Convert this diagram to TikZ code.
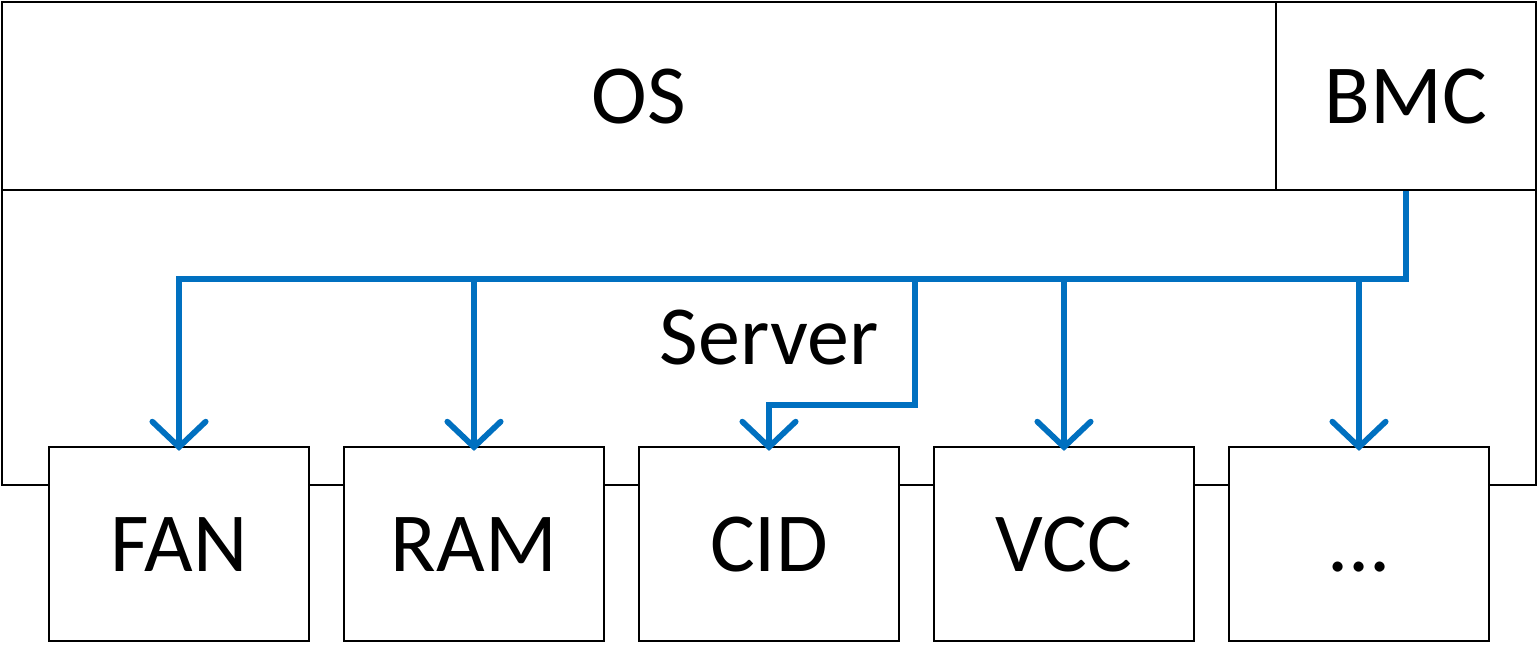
\documentclass[tikz,border=0pt]{standalone}
\usepackage{fontspec}
\setmainfont{Carlito}
\usetikzlibrary{arrows.meta,positioning}
\definecolor{linkblue}{RGB}{0,112,192}
\begin{document}
\begin{tikzpicture}[x=0.75pt,y=-0.75pt,
        box/.style={draw=black, line width=1.1pt, fill=white, inner sep=0pt,
            text height=41pt, text depth=0pt, font=\fontsize{63}{70}\selectfont},
        part/.style={box, minimum width=195pt, minimum height=145.5pt},
        link/.style={draw=linkblue, line width=4.3pt, line join=miter, shorten >=-3.5pt,
            -{Straight Barb[length=19pt, width=40pt, line cap=round]}}]
        \useasboundingbox (0,0) rectangle (1538,644);

        \node[box, minimum width=1150.5pt, minimum height=221.25pt] (server) at (769,337.5) {Server};
        \node[box, minimum width=955.5pt, minimum height=141pt] (os) at (639,96) {OS};
        \node[box, minimum width=195pt, minimum height=141pt] (bmc) at (1406,96) {BMC};

        \node[part] (fan) at (179,544) {FAN};
        \node[part] (ram) at (474,544) {RAM};
        \node[part] (cid) at (769,544) {CID};
        \node[part] (vcc) at (1064,544) {VCC};
        \node[part] (etc) at (1359,544) {...};

        \coordinate (bus) at (0,279);
        \coordinate (cidtap) at (915,279);
        \coordinate (cidbend) at (0,405);

        \draw[link] (bmc.south) |- (bus -| fan.north) -- (fan.north);
        \foreach \p in {ram,vcc,etc}
            \draw[link] (bus -| \p.north) -- (\p.north);
        \draw[link] (cidtap) |- (cidbend -| cid.north) -- (cid.north);
    \end{tikzpicture}
\end{document}
